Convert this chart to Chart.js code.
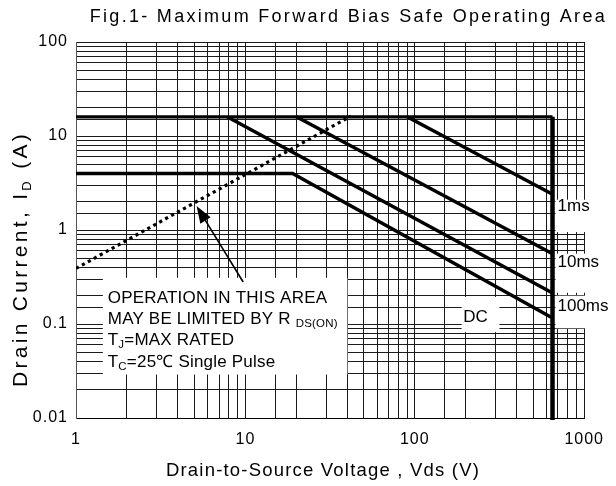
<!DOCTYPE html>
<html><head><meta charset="utf-8">
<script src="https://cdn.jsdelivr.net/npm/chart.js@4.4.1/dist/chart.umd.min.js"></script>
<style>html,body{margin:0;padding:0;background:#fff;}#wrap{width:616px;height:486px;}</style>
</head><body><div id="wrap"><canvas id="c" width="616" height="486"></canvas></div>
<script>
// ---- data ----
const xTicks = [1, 10, 100, 1000];
const xTickLabels = ['1', '10', '100', '1000'];
const yTicks = [0.01, 0.1, 1, 10, 100];
const yTickLabels = ['0.01', '0.1', '1', '10', '100'];

const limitTop   = [[1, 16], [650, 16]];
const limitRight = [[650, 16], [650, 0.0095]];
const line1ms    = [[90, 16], [650, 2.4]];
const line10ms   = [[20, 16], [650, 0.56]];
const line100ms  = [[7.8, 16], [650, 0.214]];
const lineDC     = [[1, 4], [19, 4], [650, 0.116]];
const rdsLimit   = [[1, 0.39], [42, 16.3]];
const arrowLine  = [[9.7, 0.28], [5.15, 1.8]];

const curveLabels = ['1ms', '10ms', '100ms', 'DC'];
const noteLines = ['OPERATION IN THIS AREA', 'MAY BE LIMITED BY R', 'T', 'T'];

const FONT = '"Liberation Sans", Arial, sans-serif';
const pts = a => a.map(p => ({x: p[0], y: p[1]}));

function labelFor(v, ticks, labels) {
  const l = Math.log10(v);
  for (let i = 0; i < ticks.length; i++) {
    if (Math.abs(Math.log10(ticks[i]) - l) < 1e-6) return labels[i];
  }
  return '';
}

function drawRich(ctx, parts, x, y) {
  let cx = x;
  parts.forEach(p => {
    ctx.font = p.size + 'px ' + FONT;
    ctx.fillText(p.t, cx, y + (p.dy || 0));
    cx += ctx.measureText(p.t).width;
  });
}
function richWidth(ctx, parts) {
  let w = 0;
  parts.forEach(p => { ctx.font = p.size + 'px ' + FONT; w += ctx.measureText(p.t).width; });
  return w;
}

const spacingPlugin = {
  id: 'spacing',
  beforeUpdate(chart) { chart.ctx.letterSpacing = '1px'; },
  beforeDraw(chart) { chart.ctx.letterSpacing = '1px'; }
};

const boxesPlugin = {
  id: 'boxes',
  beforeDatasetsDraw(chart) {
    const ctx = chart.ctx, xs = chart.scales.x, ys = chart.scales.y;
    ctx.save();
    ctx.fillStyle = '#fff';
    // annotation box
    const bx0 = xs.getPixelForValue(1.44), bx1 = xs.getPixelForValue(40);
    const by0 = ys.getPixelForValue(0.31), by1 = ys.getPixelForValue(0.029);
    ctx.fillRect(bx0, by0, bx1 - bx0, by1 - by0);
    // DC label box
    const dx0 = xs.getPixelForValue(189), dx1 = xs.getPixelForValue(316);
    const dy0 = ys.getPixelForValue(0.194), dy1 = ys.getPixelForValue(0.082);
    ctx.fillRect(dx0, dy0, dx1 - dx0, dy1 - dy0);
    // right side label boxes
    const rx = xs.getPixelForValue(650) + 3;
    const right = chart.chartArea.right + 2;
    [[2.1, 0.95], [0.56, 0.215], [0.2, 0.09]].forEach(r => {
      const a = ys.getPixelForValue(r[0]), b = ys.getPixelForValue(r[1]);
      ctx.fillRect(rx, a, right - rx, b - a);
    });
    ctx.restore();
  },
  afterDatasetsDraw(chart) {
    const ctx = chart.ctx, xs = chart.scales.x, ys = chart.scales.y;
    ctx.save();
    ctx.fillStyle = '#000';
    ctx.strokeStyle = '#000';
    ctx.letterSpacing = '0px';
    ctx.textBaseline = 'alphabetic';
    ctx.textAlign = 'left';

    // arrow
    const tx = xs.getPixelForValue(arrowLine[0][0]), ty = ys.getPixelForValue(arrowLine[0][1]);
    const hx = xs.getPixelForValue(arrowLine[1][0]), hy = ys.getPixelForValue(arrowLine[1][1]);
    const ang = Math.atan2(hy - ty, hx - tx);
    const hl = 17, hw = 6;
    ctx.lineWidth = 1.6;
    ctx.beginPath();
    ctx.moveTo(tx, ty);
    ctx.lineTo(hx - Math.cos(ang) * hl * 0.8, hy - Math.sin(ang) * hl * 0.8);
    ctx.stroke();
    ctx.beginPath();
    ctx.moveTo(hx, hy);
    ctx.lineTo(hx - Math.cos(ang) * hl + Math.sin(ang) * hw, hy - Math.sin(ang) * hl - Math.cos(ang) * hw);
    ctx.lineTo(hx - Math.cos(ang) * hl - Math.sin(ang) * hw, hy - Math.sin(ang) * hl + Math.cos(ang) * hw);
    ctx.closePath();
    ctx.fill();

    // annotation text
    const lx = xs.getPixelForValue(1.54);
    const top = ys.getPixelForValue(0.31);
    ctx.letterSpacing = '0.2px';
    drawRich(ctx, [{t: noteLines[0], size: 17}], lx, top + 25);
    drawRich(ctx, [{t: noteLines[1] + ' ', size: 17}, {t: 'DS(ON)', size: 11.5, dy: 3}], lx, top + 46);
    drawRich(ctx, [{t: noteLines[2], size: 17}, {t: 'J', size: 11.5, dy: 3}, {t: '=MAX RATED', size: 17}], lx, top + 67);
    drawRich(ctx, [{t: noteLines[3], size: 17}, {t: 'C', size: 11.5, dy: 3}, {t: '=25\u2103 Single Pulse', size: 17}], lx, top + 89);
    ctx.letterSpacing = '0px';

    // curve labels
    ctx.font = '17px ' + FONT;
    const rx = xs.getPixelForValue(650) + 5;
    ctx.fillText(curveLabels[0], rx, ys.getPixelForValue(1.59));
    ctx.fillText(curveLabels[1], rx, ys.getPixelForValue(0.404));
    ctx.fillText(curveLabels[2], rx, ys.getPixelForValue(0.137));
    ctx.fillText(curveLabels[3], xs.getPixelForValue(193), ys.getPixelForValue(0.106));

    // chart title
    ctx.letterSpacing = '2.3px';
    ctx.font = '18px ' + FONT;
    ctx.textAlign = 'right';
    ctx.fillText('Fig.1- Maximum Forward Bias Safe Operating Area', 607, 22);

    // x axis title
    ctx.letterSpacing = '1.2px';
    ctx.textAlign = 'center';
    ctx.font = '18.5px ' + FONT;
    ctx.fillText('Drain-to-Source Voltage , Vds (V)', 323, 476);

    // y axis title
    ctx.textAlign = 'left';
    ctx.letterSpacing = '3.3px';
    const yparts = [{t: 'Drain Current, I', size: 21}, {t: 'D', size: 13, dy: 4}, {t: ' (A)', size: 21}];
    const w = richWidth(ctx, yparts);
    ctx.translate(27, 259);
    ctx.rotate(-Math.PI / 2);
    drawRich(ctx, yparts, -w / 2, 0);
    ctx.restore();
  }
};

function ds(data, extra) {
  return Object.assign({
    data: pts(data), showLine: true, pointRadius: 0, borderColor: '#000',
    backgroundColor: '#000', borderWidth: 3.5, fill: false, tension: 0,
    borderCapStyle: 'butt', borderJoinStyle: 'miter'
  }, extra || {});
}

new Chart(document.getElementById('c'), {
  type: 'scatter',
  data: {
    datasets: [
      ds(limitTop, {borderWidth: 3.2}),
      ds(limitRight, {borderWidth: 4.5, clip: 4}),
      ds(line1ms),
      ds(line10ms),
      ds(line100ms),
      ds(lineDC),
      ds(rdsLimit, {borderWidth: 3.2, borderDash: [3.2, 3.6]})
    ]
  },
  options: {
    responsive: false,
    animation: false,
    devicePixelRatio: 1,
    layout: {padding: {top: 42, right: 26, left: 0, bottom: 0}},
    plugins: {legend: {display: false}, tooltip: {enabled: false}, title: {display: false}},
    scales: {
      x: {
        type: 'logarithmic', min: 1, max: 1000,
        grid: {color: '#1a1a1a', lineWidth: 1, drawTicks: false},
        border: {display: true, color: '#000', width: 1},
        ticks: {
          autoSkip: false, maxRotation: 0, padding: 12, color: '#000',
          font: {family: FONT, size: 16},
          callback: v => labelFor(v, xTicks, xTickLabels)
        },
        afterFit: s => { s.height = 68; }
      },
      y: {
        type: 'logarithmic', min: 0.01, max: 100,
        grid: {color: '#1a1a1a', lineWidth: 1, drawTicks: false},
        border: {display: true, color: '#555', width: 1},
        ticks: {
          autoSkip: false, padding: 8, color: '#000',
          font: {family: FONT, size: 16},
          callback: v => labelFor(v, yTicks, yTickLabels)
        },
        afterFit: s => { s.width = 76; }
      }
    }
  },
  plugins: [spacingPlugin, boxesPlugin]
});
</script>
</body></html>
